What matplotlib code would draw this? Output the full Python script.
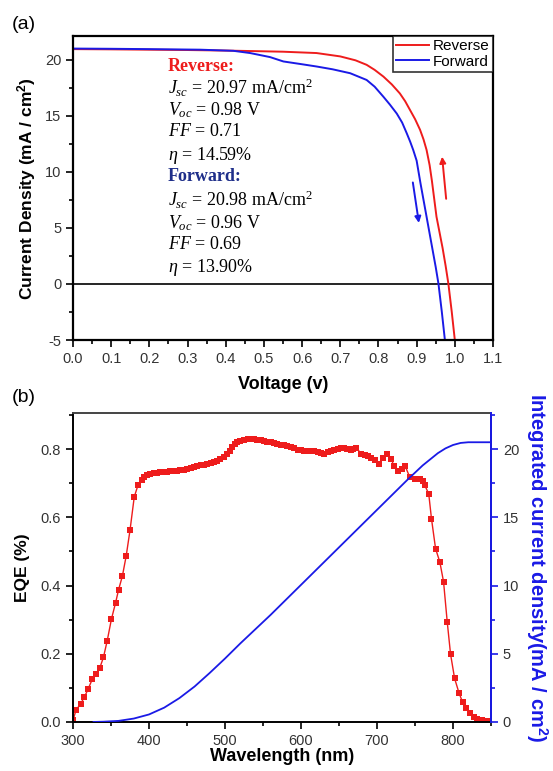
import matplotlib
matplotlib.use("Agg")
import matplotlib.pyplot as plt
from matplotlib.ticker import MultipleLocator

plt.rcParams['font.family'] = ['Liberation Sans', 'DejaVu Sans']
plt.rcParams['axes.unicode_minus'] = False
plt.rcParams['mathtext.fontset'] = 'custom'
plt.rcParams['mathtext.rm'] = 'Liberation Sans'
plt.rcParams['mathtext.it'] = 'Liberation Sans:italic'
plt.rcParams['mathtext.bf'] = 'Liberation Sans:bold'

# ---------------- data: J-V ----------------
rev_v = [0.0, 0.1, 0.2, 0.3, 0.4, 0.464, 0.55, 0.638, 0.70, 0.74, 0.769, 0.79, 0.813, 0.835,
         0.856, 0.87, 0.883, 0.896, 0.909, 0.918, 0.926, 0.934, 0.940, 0.946, 0.952, 0.960,
         0.968, 0.976, 0.983, 0.992, 1.0]
rev_j = [20.95, 20.93, 20.9, 20.87, 20.82, 20.78, 20.72, 20.6, 20.3, 19.95, 19.55, 19.1, 18.5,
         17.8, 17.0, 16.3, 15.5, 14.7, 13.75, 12.9, 11.96, 10.6, 9.2, 7.6, 6.0, 4.6,
         3.2, 1.6, 0.06, -2.5, -5.0]
fwd_v = [0.0, 0.1, 0.2, 0.333, 0.42, 0.464, 0.516, 0.551, 0.60, 0.638, 0.68, 0.726, 0.769,
         0.79, 0.813, 0.83, 0.848, 0.862, 0.874, 0.883, 0.891, 0.900, 0.910, 0.918, 0.926,
         0.934, 0.942, 0.950, 0.957, 0.966, 0.974]
fwd_j = [21.0, 20.98, 20.95, 20.9, 20.8, 20.6, 20.24, 19.85, 19.6, 19.4, 19.15, 18.8, 18.2,
         17.6, 16.7, 16.0, 15.2, 14.4, 13.45, 12.7, 11.96, 11.0, 9.0, 7.5, 6.0,
         4.5, 3.0, 1.5, 0.06, -2.5, -5.0]
rev_arrow_v = [0.978, 0.966]
rev_arrow_j = [7.35, 11.6]
fwd_arrow_v = [0.889, 0.907]
fwd_arrow_j = [9.3, 5.2]

rev_text = ["Reverse:", "$J_{sc}$ = 20.97 mA/cm$^2$", "$V_{oc}$ = 0.98 V", "$FF$ = 0.71", "$\\eta$ = 14.59%"]
fwd_text = ["Forward:", "$J_{sc}$ = 20.98 mA/cm$^2$", "$V_{oc}$ = 0.96 V", "$FF$ = 0.69", "$\\eta$ = 13.90%"]

# ---------------- data: EQE ----------------
eqe_wl = [300, 304, 310, 315, 320, 325.5, 330, 335, 340, 345, 350.6, 356, 360, 365, 370, 375,
          380.6, 385.5, 390.7, 394, 397, 401, 406, 410, 415, 419, 424, 428, 432.5, 437, 441,
          445.7, 450, 455, 459, 463, 468, 472, 476, 481, 485, 490, 494, 498, 503, 506, 509.6,
          513, 516, 520, 525, 530, 534, 538, 542.6, 547, 551, 555, 560, 564, 569, 573, 578,
          582, 586.7, 591, 595.5, 600, 604, 608, 613, 617, 622, 626, 630.7, 635, 639.5, 644,
          648, 652, 657, 661, 666, 669, 672.5, 679, 684, 688, 692, 696.7, 703, 707.7, 713.5,
          718.8, 722, 727.6, 733, 737, 743, 749.6, 756, 760.6, 762.7, 768, 771.6, 777, 782.6,
          787.5, 792.3, 796.7, 802, 807.7, 812.5, 817.4, 822.7, 827, 832, 837.6, 844, 850]
eqe_val = [0.005, 0.035, 0.053, 0.073, 0.097, 0.126, 0.142, 0.157, 0.189, 0.238, 0.302, 0.349,
           0.388, 0.428, 0.487, 0.562, 0.66, 0.694, 0.709, 0.718, 0.723, 0.726, 0.730, 0.731,
           0.732, 0.733, 0.734, 0.735, 0.736, 0.737, 0.738, 0.740, 0.742, 0.745, 0.748, 0.750,
           0.752, 0.754, 0.756, 0.759, 0.762, 0.766, 0.772, 0.778, 0.787, 0.795, 0.806, 0.814,
           0.821, 0.825, 0.828, 0.829, 0.830, 0.829, 0.828, 0.826, 0.824, 0.822, 0.821, 0.818,
           0.814, 0.812, 0.811, 0.809, 0.806, 0.802, 0.798, 0.796, 0.794, 0.794, 0.794, 0.793,
           0.791, 0.789, 0.787, 0.790, 0.794, 0.798, 0.801, 0.803, 0.804, 0.801, 0.798, 0.801,
           0.804, 0.787, 0.783, 0.779, 0.773, 0.767, 0.757, 0.775, 0.785, 0.772, 0.750, 0.736,
           0.743, 0.750, 0.718, 0.712, 0.711, 0.706, 0.694, 0.669, 0.596, 0.508, 0.469, 0.411,
           0.294, 0.199, 0.128, 0.086, 0.058, 0.040, 0.025, 0.016, 0.009, 0.006, 0.004, 0.004]

int_wl = [327, 340, 360, 380, 400, 420, 440, 460, 480, 500, 520, 540, 560, 580, 600, 620, 640,
          660, 680, 700, 720, 740, 760, 780, 790, 800, 810, 820, 850]
int_j = [0.0, 0.02, 0.08, 0.25, 0.55, 1.05, 1.75, 2.6, 3.6, 4.65, 5.75, 6.8, 7.85, 8.95, 10.05,
         11.15, 12.25, 13.35, 14.45, 15.55, 16.65, 17.75, 18.8, 19.7, 20.05, 20.3, 20.45, 20.5,
         20.5]

RED = '#ee1c1c'
BLUE = '#1a1ae6'
NAVY = '#1f2f8a'
TICKCOL = '#333333'
TICKFS = 10.5

fig = plt.figure(figsize=(5.53, 7.71), dpi=100)

# ---------------- panel (a) ----------------
ax1 = fig.add_axes([0.132, 0.559, 0.7595, 0.394])
ax1.plot(rev_v, rev_j, color=RED, lw=1.4, label='Reverse')
ax1.plot(fwd_v, fwd_j, color=BLUE, lw=1.4, label='Forward')
ax1.axhline(0, color='black', lw=1.2, zorder=1)
ax1.annotate('', xy=(rev_arrow_v[1], rev_arrow_j[1]), xytext=(rev_arrow_v[0], rev_arrow_j[0]),
             arrowprops=dict(arrowstyle='-|>', color=RED, lw=1.4, mutation_scale=9))
ax1.annotate('', xy=(fwd_arrow_v[1], fwd_arrow_j[1]), xytext=(fwd_arrow_v[0], fwd_arrow_j[0]),
             arrowprops=dict(arrowstyle='-|>', color=BLUE, lw=1.4, mutation_scale=9))
ax1.set_xlim(0, 1.1)
ax1.set_ylim(-5, 22.1)
ax1.xaxis.set_minor_locator(MultipleLocator(0.05))
ax1.yaxis.set_major_locator(MultipleLocator(5))
ax1.yaxis.set_minor_locator(MultipleLocator(2.5))
ax1.set_xticks([i / 10 for i in range(12)])
ax1.set_xticklabels(['%.1f' % (i / 10) for i in range(12)])
ax1.tick_params(which='both', direction='out', top=False, right=False, labelsize=TICKFS,
                labelcolor=TICKCOL, width=1.2)
ax1.tick_params(which='major', length=5)
ax1.tick_params(which='minor', length=3)
for s in ax1.spines.values():
    s.set_linewidth(1.6)
ax1.set_xlabel('Voltage (v)', fontsize=13, fontweight='bold', labelpad=7)
ax1.set_ylabel('Current Density (mA / cm$\\mathbf{^2}$)', fontsize=12.5, fontweight='bold',
               labelpad=5)
leg = ax1.legend(loc='upper right', fontsize=11, frameon=True, fancybox=False,
                 edgecolor='black', borderaxespad=0.0, handlelength=2.2, handletextpad=0.25,
                 borderpad=0.2, labelspacing=0.1)
leg.get_frame().set_linewidth(1.2)

serif = {'family': 'Liberation Serif', 'size': 13}
plt.rcParams['mathtext.rm'] = 'Liberation Serif'
plt.rcParams['mathtext.it'] = 'Liberation Serif:italic'
ys_rev = [19.4, 17.5, 15.5, 13.6, 11.5]
ys_fwd = [9.55, 7.5, 5.45, 3.5, 1.5]
for i, (t, y) in enumerate(zip(rev_text, ys_rev)):
    ax1.text(0.249, y, t, fontdict=serif, va='center', ha='left',
             color=RED if i == 0 else 'black', fontweight='bold' if i == 0 else 'normal')
for i, (t, y) in enumerate(zip(fwd_text, ys_fwd)):
    ax1.text(0.249, y, t, fontdict=serif, va='center', ha='left',
             color=NAVY if i == 0 else 'black', fontweight='bold' if i == 0 else 'normal')

fig.text(0.022, 0.968, '(a)', fontsize=14, va='center', ha='left')
fig.text(0.022, 0.485, '(b)', fontsize=14, va='center', ha='left')

# ---------------- panel (b) ----------------
ax2 = fig.add_axes([0.132, 0.0636, 0.756, 0.4004])
ax2.plot(eqe_wl, eqe_val, color=RED, lw=1.0, marker='s', markersize=4.5, markeredgewidth=0)
ax2.set_xlim(300, 850)
ax2.set_ylim(0, 0.905)
ax2.xaxis.set_major_locator(MultipleLocator(100))
ax2.xaxis.set_minor_locator(MultipleLocator(50))
ax2.yaxis.set_major_locator(MultipleLocator(0.2))
ax2.yaxis.set_minor_locator(MultipleLocator(0.1))
ax2.tick_params(which='both', direction='out', top=False, right=False, labelsize=TICKFS,
                labelcolor=TICKCOL, width=1.2)
ax2.tick_params(which='major', length=5)
ax2.tick_params(which='minor', length=3)
ax2.set_xlabel('Wavelength (nm)', fontsize=13, fontweight='bold', labelpad=0)
ax2.set_ylabel('EQE (%)', fontsize=12.5, fontweight='bold', labelpad=8)
for s in ax2.spines.values():
    s.set_linewidth(1.4)
ax2.spines['top'].set_color('#444444')

ax3 = ax2.twinx()
ax3.plot(int_wl, int_j, color=BLUE, lw=1.3)
ax3.set_ylim(0, 0.905 * 25)
ax3.yaxis.set_major_locator(MultipleLocator(5))
ax3.yaxis.set_minor_locator(MultipleLocator(2.5))
ax3.tick_params(which='both', direction='out', colors=BLUE, labelcolor=TICKCOL,
                labelsize=TICKFS, width=1.2)
ax3.tick_params(which='major', length=5)
ax3.tick_params(which='minor', length=3)
ax3.spines['right'].set_color(BLUE)
ax3.spines['right'].set_linewidth(1.4)
for k in ('left', 'top', 'bottom'):
    ax3.spines[k].set_visible(False)
ax3.set_ylabel('Integrated current density(mA / cm$\\mathbf{^2}$)', color=BLUE, fontsize=14.5,
               fontweight='bold', rotation=270, labelpad=22)

fig.savefig('out.png', dpi=100)
